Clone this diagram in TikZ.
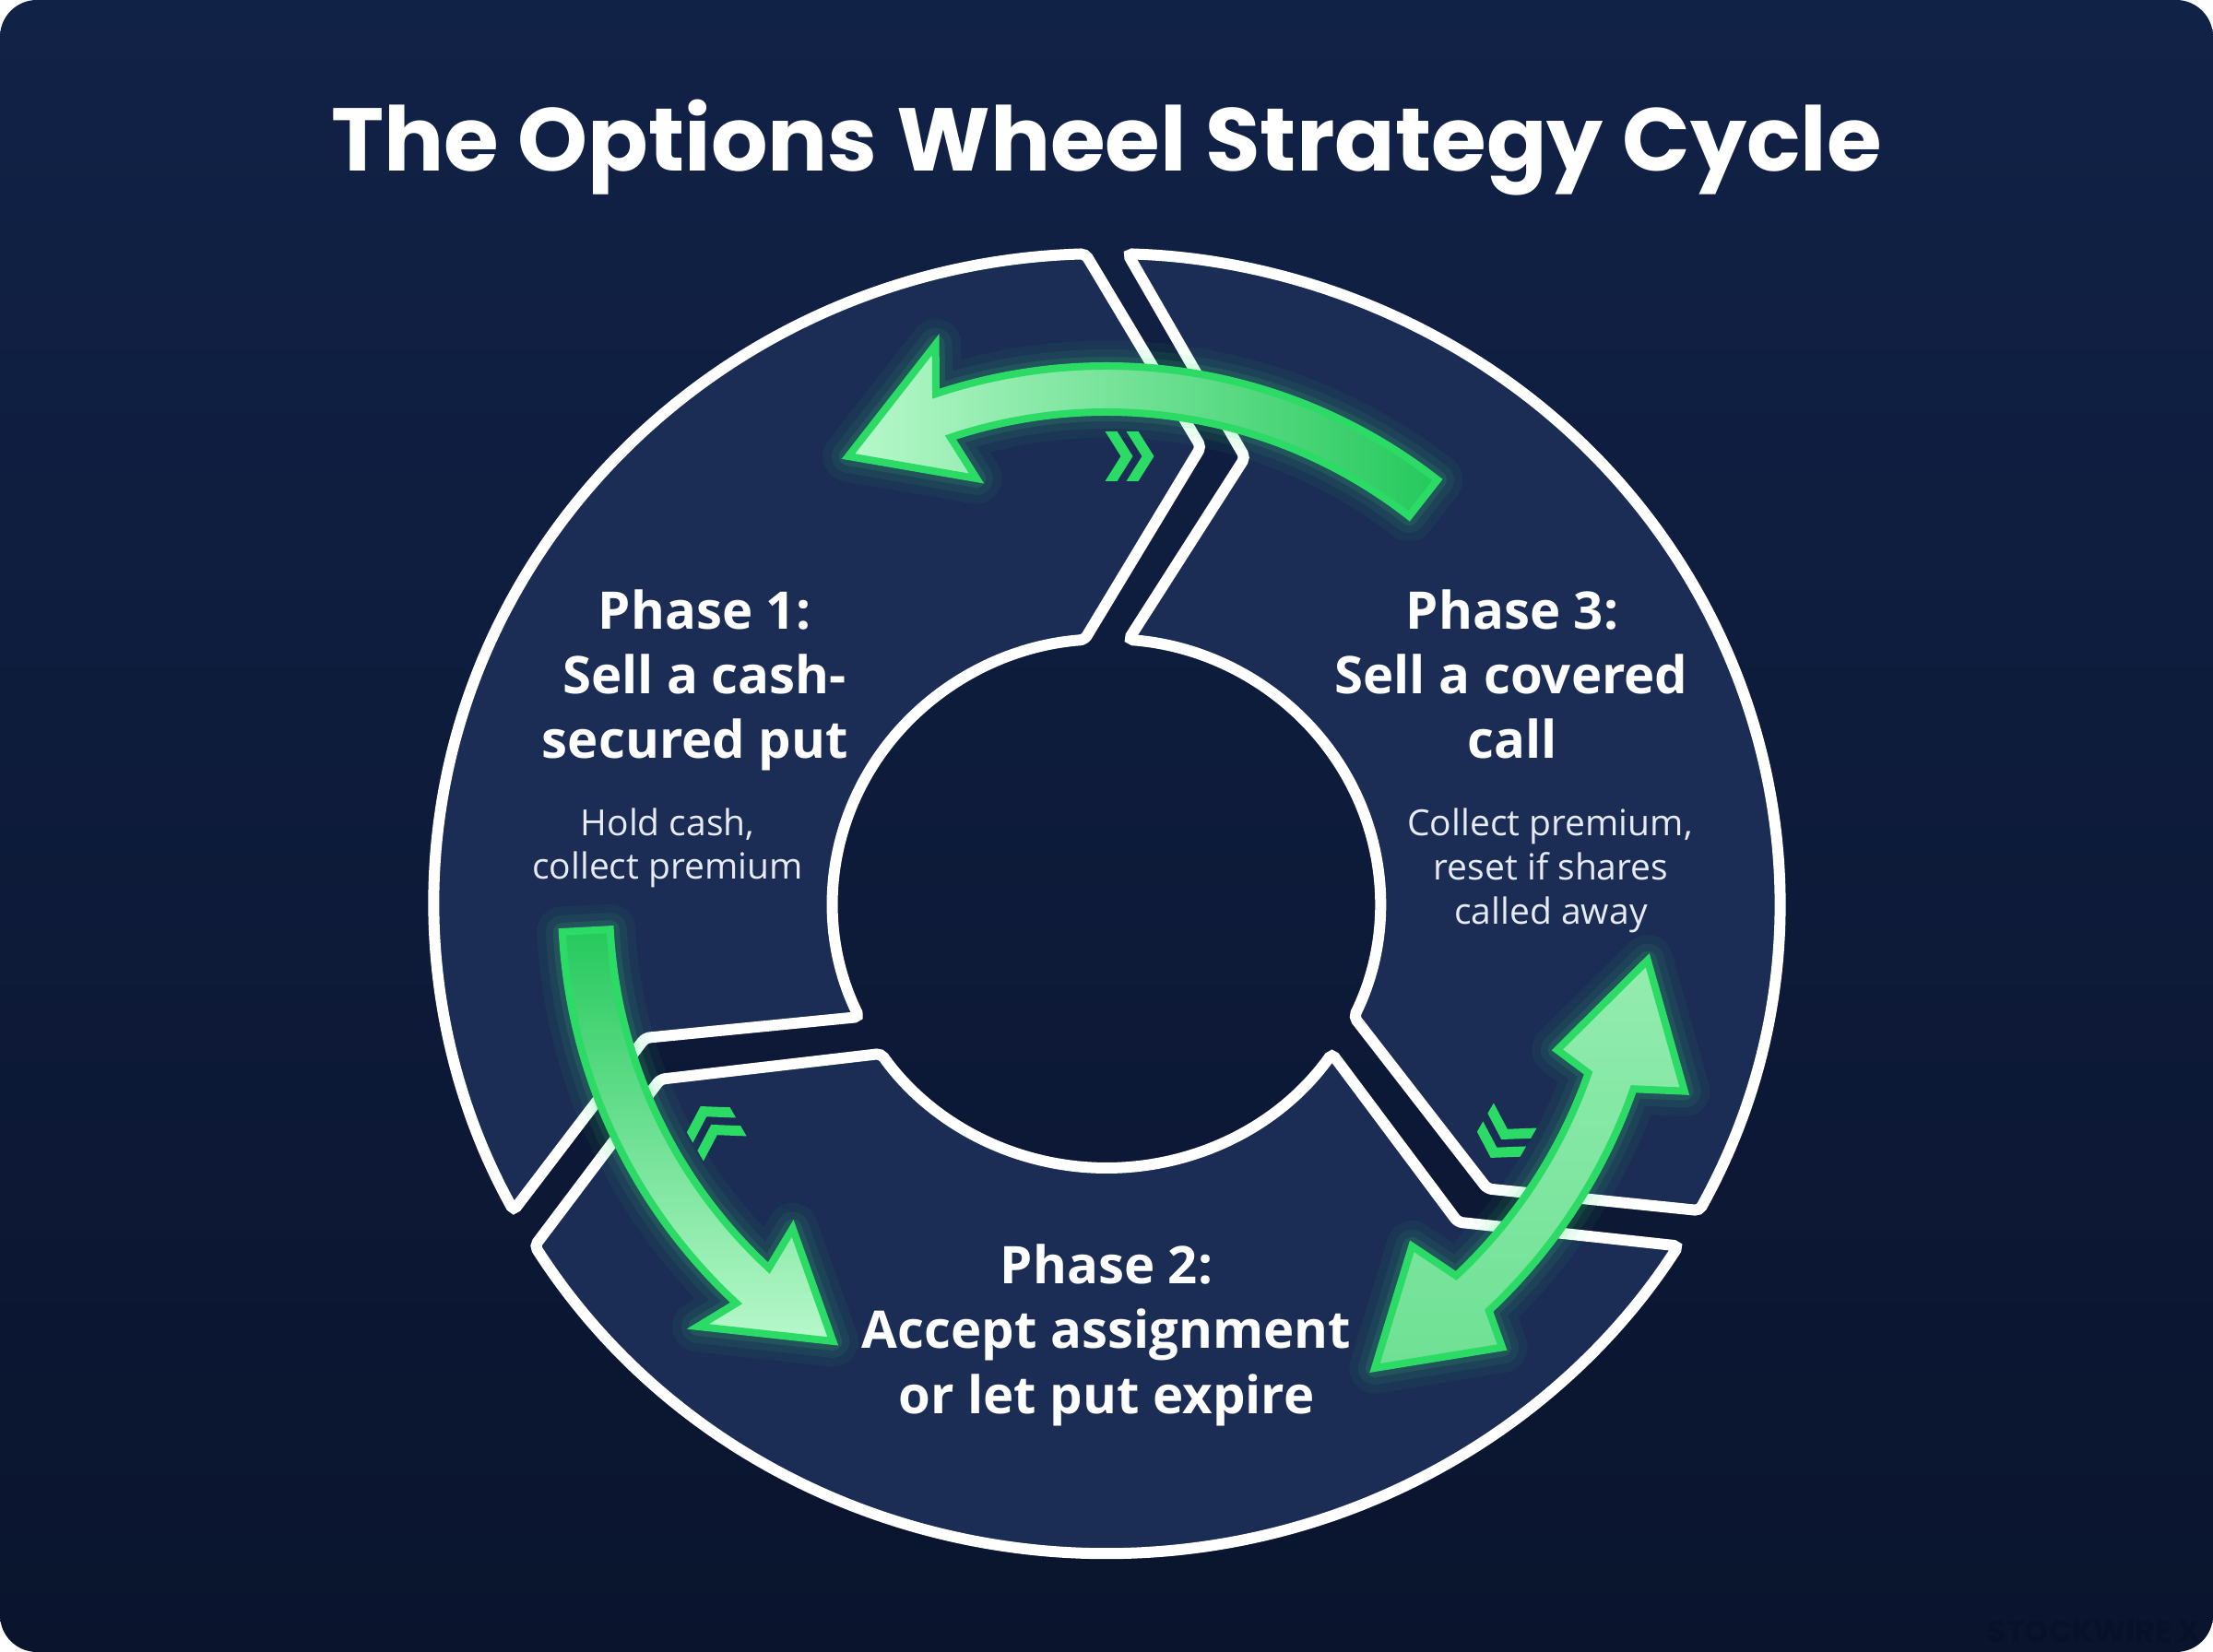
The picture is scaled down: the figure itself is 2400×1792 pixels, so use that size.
\documentclass[tikz,border=0pt]{standalone}
\usepackage{fontspec}
\setmainfont{Open Sans}
\newfontfamily\titlefont{Poppins}
\definecolor{bgtop}{HTML}{112247}
\definecolor{bgbot}{HTML}{0A142D}
\definecolor{segfill}{HTML}{1B2D55}
\definecolor{grn}{HTML}{2BDB66}
\definecolor{grnlight}{HTML}{B8F8CB}
\definecolor{grndark}{HTML}{25C95C}
\definecolor{glowc}{HTML}{3DF07A}
\definecolor{subc}{HTML}{E6EBF5}
\definecolor{wmk}{HTML}{08112A}
\tikzset{
  segment/.style={fill=segfill, draw=white, line width=0.12cm, rounded corners=0.05cm},
  glowA/.style={draw=glowc, line width=0.55cm, opacity=0.05, line join=round},
  glowB/.style={draw=glowc, line width=0.36cm, opacity=0.07, line join=round},
  glowC/.style={draw=glowc, line width=0.2cm, opacity=0.10, line join=round},
  arrowbody/.style={draw=grn, line width=0.08cm, line join=miter},
  chevfill/.style={fill=grn},
  phase/.style={font=\bfseries\fontsize{16}{19}\selectfont, text=white, anchor=base, inner sep=0pt},
  sub/.style={font=\fontsize{11.1}{13}\selectfont, text=subc, anchor=base, inner sep=0pt},
}
\def\pathA{(52:583) arc[start angle=52, end angle=108.5, radius=583] -- (107:634) -- (120:560) -- (107:482) -- (108.5:533) arc[start angle=108.5, end angle=52, radius=533] -- cycle}
\def\pathB{(183:591) arc[start angle=183, end angle=227.2, radius=591] -- (226:638) -- (238:560) -- (226:490) -- (227.2:539) arc[start angle=227.2, end angle=183, radius=539] -- cycle}
\def\pathC{(-46.8:606) arc[start angle=-46.8, end angle=-19.4, radius=606] -- (-18:659) -- (-6:590) -- (-18:514) -- (-19.4:554) arc[start angle=-19.4, end angle=-46.8, radius=554] -- (-48.3:498) -- (-60:582) -- (-48.3:645) -- cycle}
\def\dchev{(-26.5,27) -- (-13.5,27) -- (3.5,0) -- (-13.5,-27) -- (-26.5,-27) -- (-9.5,0) -- cycle (-3.5,27) -- (9.5,27) -- (26.5,0) -- (9.5,-27) -- (-3.5,-27) -- (13.5,0) -- cycle}
\begin{document}
\begin{tikzpicture}[x=0.01cm,y=0.01cm]
\useasboundingbox (0,0) rectangle (2400,1792);
\fill[white] (0,0) rectangle (2400,1792);
\shade[top color=bgtop, bottom color=bgbot, rounded corners=0.4cm] (0,0) rectangle (2400,1792);

% title
\node[font=\titlefont\bfseries\fontsize{27.5}{32}\selectfont, text=white, anchor=base, inner sep=0pt] (title) at (1200,1606) {The Options Wheel Strategy Cycle};

% wheel segments
\begin{scope}[shift={(1200,812)}, xscale=1.035]
  % Phase 1 segment
  \path[segment] (91.8:705) arc[start angle=91.8, end angle=208.2, radius=705] -- (196.8:505) -- (205.4:287) arc[start angle=205.4, end angle=94.6, radius=287] -- (78.7:505) -- cycle;
  % Phase 2 segment
  \path[segment] (211.8:705) arc[start angle=211.8, end angle=328.2, radius=705] -- (316.8:505) -- (325.4:287) arc[start angle=325.4, end angle=214.6, radius=287] -- (202.2:505) -- cycle;
  % Phase 3 segment
  \path[segment] (331.8:705) arc[start angle=331.8, end angle=448.2, radius=705] -- (73.3:505) -- (85.4:287) arc[start angle=85.4, end angle=-25.4, radius=287] -- (322.2:505) -- cycle;
\end{scope}

% chevrons
\begin{scope}[shift={(1225,1297)}]
  \fill[chevfill] \dchev;
\end{scope}
\begin{scope}[shift={(773,569)}, rotate=120]
  \fill[chevfill] \dchev;
\end{scope}
\begin{scope}[shift={(1630,559)}, rotate=240]
  \fill[chevfill] \dchev;
\end{scope}

% arrows
\begin{scope}[shift={(1200,812)}]
  \path[glowA] \pathA; \path[glowB] \pathA; \path[glowC] \pathA;
  \path[glowA] \pathB; \path[glowB] \pathB; \path[glowC] \pathB;
  \path[glowA] \pathC; \path[glowB] \pathC; \path[glowC] \pathC;
  \path[arrowbody, left color=grnlight, right color=grndark] \pathA;
  \path[arrowbody, top color=grndark, bottom color=grnlight] \pathB;
  \path[arrowbody, top color=grnlight!75!grndark, bottom color=grnlight!50!grndark] \pathC;
\end{scope}

% Phase 1 text
\node[phase] (p1a) at (764,1109) {Phase 1:};
\node[phase] (p1b) at (764,1039) {Sell a cash-};
\node[phase] (p1c) at (754,969) {secured put};
\node[sub] (s1a) at (724,885) {Hold cash,};
\node[sub] (s1b) at (724,838) {collect premium};

% Phase 3 text
\node[phase] (p3a) at (1640,1109) {Phase 3:};
\node[phase] (p3b) at (1639,1039) {Sell a covered};
\node[phase] (p3c) at (1640,969) {call};
\node[sub] (s3a) at (1681,885) {Collect premium,};
\node[sub] (s3b) at (1682,837) {reset if shares};
\node[sub] (s3c) at (1682,789) {called away};

% Phase 2 text
\node[phase] (p2a) at (1200,399) {Phase 2:};
\node[phase] (p2b) at (1200,329) {Accept assignment};
\node[phase] (p2c) at (1200,258) {or let put expire};

% watermark
\node[font=\titlefont\bfseries\fontsize{9.5}{11}\selectfont, text=wmk, inner sep=0pt] (wm) at (2271,22) {STOCKWIRE X};
\end{tikzpicture}
\end{document}
